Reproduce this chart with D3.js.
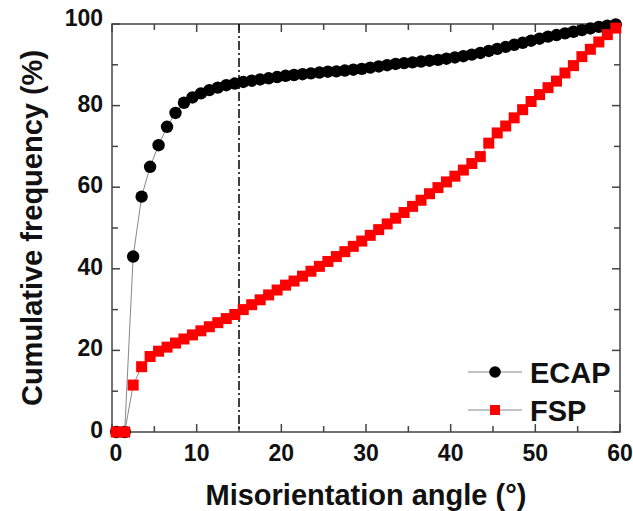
<!DOCTYPE html>
<html>
<head>
<meta charset="utf-8">
<title>Cumulative frequency of misorientation angle</title>
<script src="https://d3js.org/d3.v7.min.js"></script>
<style>
  body { margin: 0; background: #fff; font-family: "Liberation Sans", Arial, sans-serif; }
  .frame { fill: none; stroke: #444; stroke-width: 1.5px; }
  .tick-line { stroke: #444; stroke-width: 1.5px; }
  .tick-label { font-size: 23px; font-weight: bold; fill: #111; }
  .title { font-size: 29px; font-weight: bold; fill: #111; }
  .legend-text { font-size: 29px; font-weight: bold; fill: #111; }
</style>
</head>
<body>
<svg id="chart" width="633" height="511"></svg>
<script>
// angle bins (degrees)
var angles = d3.range(60).map(function(i) { return i + 0.5; });

// cumulative frequency (%)
var ecap = [0, 0, 43, 57.7, 65, 70.3, 74.8, 78.2, 80.7, 82, 83, 83.8, 84.4, 85, 85.4,
  85.8, 86.1, 86.4, 86.7, 87, 87.3, 87.5, 87.7, 87.9, 88.1, 88.3, 88.4, 88.6, 88.8, 89,
  89.3, 89.6, 89.9, 90.2, 90.4, 90.6, 90.8, 91, 91.2, 91.5, 91.8, 92.1, 92.5, 92.9, 93.4,
  93.9, 94.4, 94.9, 95.4, 95.9, 96.4, 96.9, 97.3, 97.7, 98.1, 98.5, 98.9, 99.3, 99.6, 99.9];

var fsp = [0, 0, 11.5, 16, 18.5, 19.8, 20.8, 21.8, 22.8, 23.8, 24.8, 25.8, 26.8, 27.8, 28.8,
  30, 31.2, 32.4, 33.6, 34.8, 36, 37, 38.2, 39.4, 40.6, 41.8, 43, 44.2, 45.5, 46.8,
  48.2, 49.6, 51, 52.4, 53.8, 55.3, 56.8, 58.4, 59.9, 61.3, 62.7, 64.2, 65.8, 67.5, 70.8,
  73.3, 75, 77, 79, 81, 82.7, 84.4, 86, 88, 89.8, 92, 93.8, 95.6, 97.4, 99];

var xTicks = [0, 10, 20, 30, 40, 50, 60];
var yTicks = [0, 20, 40, 60, 80, 100];
var boundary = 15; // low/high angle boundary

var margin = { left: 112, right: 13, top: 24, bottom: 79 };
var width = 633, height = 511;

var svg = d3.select("#chart");

var x = d3.scaleLinear().domain([0, 60]).range([margin.left, width - margin.right]);
var y = d3.scaleLinear().domain([0, 100]).range([height - margin.bottom, margin.top]);

var x0 = x.range()[0], x1 = x.range()[1];
var y0 = y.range()[0], y1 = y.range()[1];

// frame
svg.append("rect").attr("class", "frame")
  .attr("x", x0).attr("y", y1)
  .attr("width", x1 - x0).attr("height", y0 - y1);

// ticks pointing inward on all sides
var ticks = svg.append("g");
d3.range(0, 61, 5).forEach(function(v) {
  var len = v % 10 === 0 ? 8 : 6;
  ticks.append("line").attr("class", "tick-line")
    .attr("x1", x(v)).attr("x2", x(v)).attr("y1", y0).attr("y2", y0 - len);
  ticks.append("line").attr("class", "tick-line")
    .attr("x1", x(v)).attr("x2", x(v)).attr("y1", y1).attr("y2", y1 + len);
});
d3.range(0, 101, 10).forEach(function(v) {
  var len = v % 20 === 0 ? 8 : 6;
  ticks.append("line").attr("class", "tick-line")
    .attr("x1", x0).attr("x2", x0 + len).attr("y1", y(v)).attr("y2", y(v));
  ticks.append("line").attr("class", "tick-line")
    .attr("x1", x1).attr("x2", x1 - len).attr("y1", y(v)).attr("y2", y(v));
});

// tick labels
svg.append("g").selectAll("text").data(xTicks).enter().append("text")
  .attr("class", "tick-label")
  .attr("x", function(d) { return x(d) + (d === 0 ? 4 : 0); })
  .attr("y", y0 + 29)
  .attr("text-anchor", "middle")
  .text(function(d) { return d; });

svg.append("g").selectAll("text").data(yTicks).enter().append("text")
  .attr("class", "tick-label")
  .attr("x", x0 - 9)
  .attr("y", function(d) { return y(d) + (d === 100 ? 2 : 6); })
  .attr("text-anchor", "end")
  .text(function(d) { return d; });

// axis titles
svg.append("text").attr("class", "title")
  .attr("x", (x0 + x1) / 2).attr("y", 505)
  .attr("text-anchor", "middle")
  .text("Misorientation angle (°)");

svg.append("text").attr("class", "title")
  .attr("transform", "translate(42," + ((y0 + y1) / 2) + ") rotate(-90)")
  .attr("text-anchor", "middle")
  .text("Cumulative frequency (%)");

// 15 degree boundary
svg.append("line")
  .attr("x1", x(boundary)).attr("x2", x(boundary))
  .attr("y1", y1).attr("y2", y0)
  .attr("stroke", "#111").attr("stroke-width", 1.6)
  .attr("stroke-dasharray", "9,3,2,3");

var line = d3.line()
  .x(function(d) { return x(d[0]); })
  .y(function(d) { return y(d[1]); });

var ecapPts = angles.map(function(a, i) { return [a, ecap[i]]; });
var fspPts = angles.map(function(a, i) { return [a, fsp[i]]; });

var rad = 6.2, sq = 11;

// ECAP
svg.append("path").datum(ecapPts)
  .attr("d", line).attr("fill", "none")
  .attr("stroke", "#888").attr("stroke-width", 1);
svg.append("g").selectAll("circle").data(ecapPts).enter().append("circle")
  .attr("cx", function(d) { return x(d[0]); })
  .attr("cy", function(d) { return y(d[1]); })
  .attr("r", rad)
  .attr("fill", "#000");

// FSP
svg.append("path").datum(fspPts)
  .attr("d", line).attr("fill", "none")
  .attr("stroke", "#888").attr("stroke-width", 1);
svg.append("g").selectAll("rect").data(fspPts).enter().append("rect")
  .attr("x", function(d) { return x(d[0]) - sq / 2; })
  .attr("y", function(d) { return y(d[1]) - sq / 2; })
  .attr("width", sq).attr("height", sq)
  .attr("fill", "#f00");

// legend
var legend = svg.append("g");
var items = [
  { name: "ECAP", ly: 372, shape: "circle" },
  { name: "FSP", ly: 410, shape: "square" }
];
items.forEach(function(it) {
  legend.append("line")
    .attr("x1", 468).attr("x2", 522).attr("y1", it.ly).attr("y2", it.ly)
    .attr("stroke", "#888").attr("stroke-width", 1);
  if (it.shape === "circle") {
    legend.append("circle").attr("cx", 495).attr("cy", it.ly).attr("r", 5.8).attr("fill", "#000");
  } else {
    legend.append("rect").attr("x", 490).attr("y", it.ly - 5)
      .attr("width", 10).attr("height", 10).attr("fill", "#f00");
  }
  legend.append("text").attr("class", "legend-text")
    .attr("x", 530).attr("y", it.ly + 10.5)
    .text(it.name);
});
</script>
</body>
</html>
